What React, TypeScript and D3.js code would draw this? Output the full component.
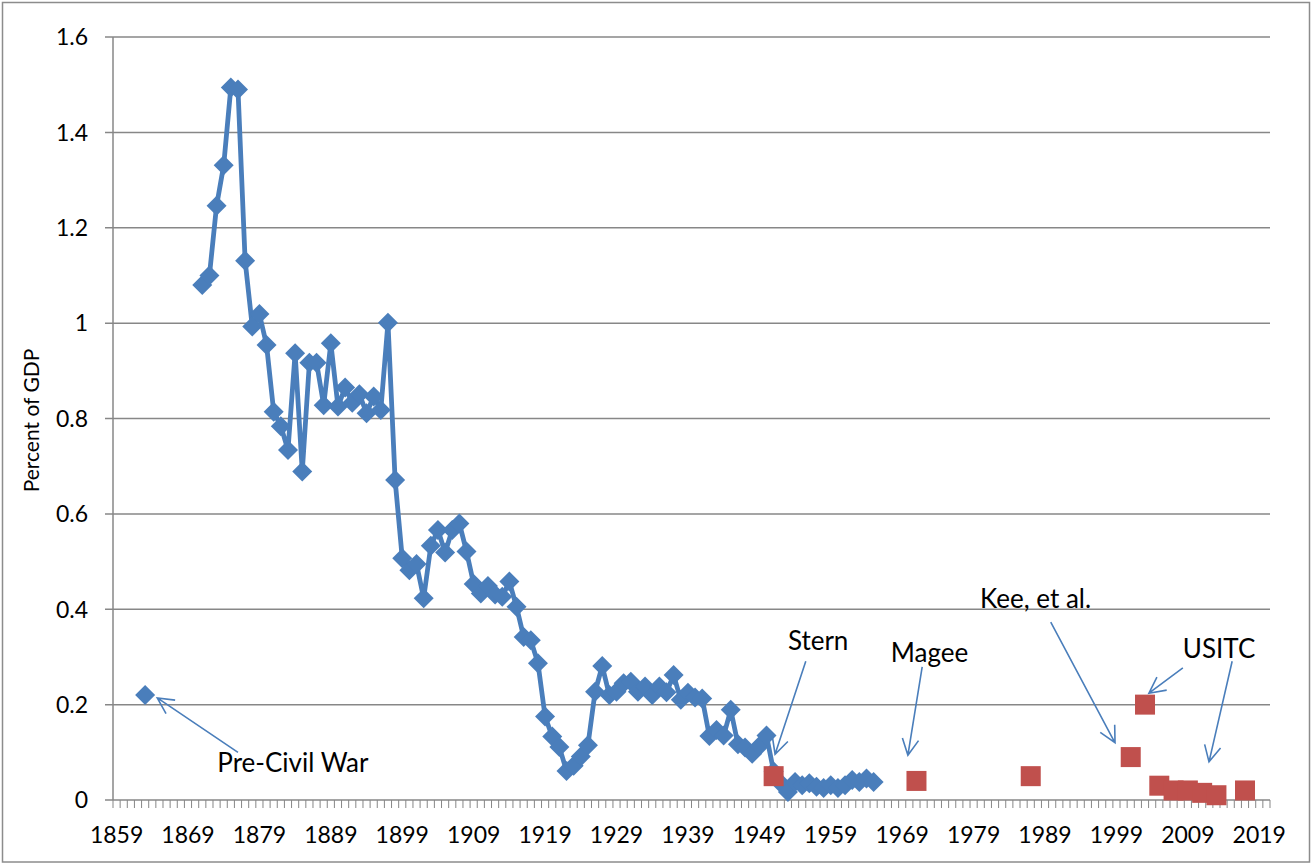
import React from "react";
import * as d3 from "d3";

// blue series: tariff revenue share, consecutive years from 1871
const firstYear = 1871;
const tariffValues = [
  1.08, 1.1, 1.246, 1.331, 1.494, 1.49, 1.131, 0.993, 1.019, 0.954,
  0.814, 0.784, 0.734, 0.937, 0.689, 0.917, 0.917, 0.828, 0.958, 0.825,
  0.865, 0.833, 0.851, 0.811, 0.846, 0.818, 1.001, 0.671, 0.507, 0.482,
  0.495, 0.423, 0.533, 0.566, 0.519, 0.566, 0.58, 0.521, 0.453, 0.433,
  0.449, 0.431, 0.426, 0.458, 0.405, 0.342, 0.335, 0.287, 0.175, 0.133,
  0.111, 0.061, 0.072, 0.091, 0.115, 0.227, 0.281, 0.22, 0.227, 0.245,
  0.248, 0.227, 0.238, 0.22, 0.238, 0.226, 0.262, 0.21, 0.225, 0.215,
  0.213, 0.134, 0.147, 0.135, 0.189, 0.117, 0.11, 0.097, 0.113, 0.135,
  0.06, 0.035, 0.017, 0.038, 0.031, 0.035, 0.028, 0.025, 0.031, 0.025,
  0.031, 0.042, 0.038, 0.045, 0.038,
];
const tariffYears = tariffValues.map((_, i) => firstYear + i);

// isolated pre-civil war point
const preWarYears = [1863];
const preWarValues = [0.22];

// red squares: study estimates
const studyYears = [1951, 1971, 1987, 2001, 2003, 2005, 2007, 2009, 2011, 2013, 2017];
const studyValues = [0.05, 0.04, 0.05, 0.09, 0.2, 0.03, 0.02, 0.02, 0.015, 0.01, 0.02];

const yTicks = [0, 0.2, 0.4, 0.6, 0.8, 1, 1.2, 1.4, 1.6];
const xLabelYears = [1859, 1869, 1879, 1889, 1899, 1909, 1919, 1929, 1939, 1949, 1959, 1969, 1979, 1989, 1999, 2009, 2019];

// annotations in data units: label, text anchor [year, value], arrows [[fromYear, fromVal, toYear, toVal]]
const notes = [
  { label: "Pre-Civil War", at: [1873.1, 0.059], arrows: [[1876.0, 0.1, 1864.7, 0.214]] },
  { label: "Stern", at: [1953.0, 0.315], arrows: [[1955.5, 0.291, 1951.2, 0.096]] },
  { label: "Magee", at: [1967.4, 0.289], arrows: [[1971.8, 0.279, 1969.8, 0.094]] },
  { label: "Kee, et al.", at: [1979.9, 0.403], arrows: [[1989.8, 0.373, 1998.8, 0.12]] },
  {
    label: "USITC",
    at: [2008.3, 0.298],
    arrows: [
      [2008.3, 0.277, 2003.55, 0.224],
      [2015.2, 0.291, 2011.96, 0.08],
    ],
  },
];

const W = 1312;
const H = 864;
const plot = { left: 113, right: 1270, top: 37, bottom: 800 };
const font = "Lato, 'Open Sans', sans-serif";
const gridColor = "#878787";
const blue = "#4a7ebb";
const red = "#c0504d";

export default function App() {
  const x = d3.scaleLinear().domain([1858.5, 2020.5]).range([plot.left, plot.right]);
  const y = d3.scaleLinear().domain([0, 1.6]).range([plot.bottom, plot.top]);

  const line = d3
    .line<number>()
    .x((_, i) => x(tariffYears[i]))
    .y((d) => y(d));

  const minorTicks = d3.range(1858.5, 2021, 1);
  const diamond = (cx: number, cy: number, r = 10) =>
    `M${cx},${cy - r}L${cx + r},${cy}L${cx},${cy + r}L${cx - r},${cy}Z`;

  const arrowPath = (a: number[]) => {
    const x1 = x(a[0]), y1 = y(a[1]), x2 = x(a[2]), y2 = y(a[3]);
    const ang = Math.atan2(y2 - y1, x2 - x1);
    const len = 18, spread = (27 * Math.PI) / 180;
    const hx1 = x2 - len * Math.cos(ang - spread), hy1 = y2 - len * Math.sin(ang - spread);
    const hx2 = x2 - len * Math.cos(ang + spread), hy2 = y2 - len * Math.sin(ang + spread);
    return `M${x1},${y1}L${x2},${y2}M${hx1},${hy1}L${x2},${y2}L${hx2},${hy2}`;
  };

  return (
    <svg width={W} height={H} style={{ position: "absolute", left: 0, top: 0, background: "#fff" }}>
      <rect x={2.5} y={2.5} width={W - 5} height={H - 4.5} fill="#fff" stroke="#8c8c8c" strokeWidth={1.5} />

      {/* gridlines and y ticks */}
      {yTicks.map((t) => (
        <g key={t}>
          <line x1={plot.left - 8} x2={plot.right} y1={y(t)} y2={y(t)} stroke={gridColor} strokeWidth={1.5} />
          <text x={88} y={y(t)} dy="0.36em" textAnchor="end" fontFamily={font} fontSize={23} fill="#000">
            {t === 0 || t === 1 ? String(t) : t.toFixed(1)}
          </text>
        </g>
      ))}

      {/* y axis */}
      <line x1={plot.left} x2={plot.left} y1={plot.top} y2={plot.bottom} stroke={gridColor} strokeWidth={1.5} />

      {/* x axis minor ticks */}
      {minorTicks.map((t) => (
        <line key={t} x1={x(t)} x2={x(t)} y1={plot.bottom} y2={plot.bottom + 8} stroke={gridColor} strokeWidth={1} />
      ))}
      {xLabelYears.map((yr) => (
        <text key={yr} x={x(yr)} y={843} textAnchor="middle" fontFamily={font} fontSize={23} fill="#000">
          {yr}
        </text>
      ))}

      <text
        transform={`translate(39,${(plot.top + plot.bottom) / 2 + 2}) rotate(-90)`}
        textAnchor="middle"
        fontFamily={font}
        fontSize={21}
        fill="#000"
      >
        Percent of GDP
      </text>

      {/* blue line series */}
      <path d={line(tariffValues) ?? ""} fill="none" stroke={blue} strokeWidth={4.8} strokeLinejoin="round" />
      {tariffValues.map((v, i) => (
        <path key={i} d={diamond(x(tariffYears[i]), y(v))} fill={blue} />
      ))}
      {preWarValues.map((v, i) => (
        <path key={"p" + i} d={diamond(x(preWarYears[i]), y(v))} fill={blue} />
      ))}

      {/* red squares */}
      {studyValues.map((v, i) => (
        <rect key={"s" + i} x={x(studyYears[i]) - 10} y={y(v) - 10} width={20} height={20} fill={red} />
      ))}

      {/* annotations */}
      {notes.map((n) => (
        <g key={n.label}>
          {n.arrows.map((a, j) => (
            <path key={j} d={arrowPath(a)} fill="none" stroke={blue} strokeWidth={1.6} />
          ))}
          <text x={x(n.at[0])} y={y(n.at[1])} fontFamily={font} fontSize={26} fill="#000">
            {n.label}
          </text>
        </g>
      ))}
    </svg>
  );
}
